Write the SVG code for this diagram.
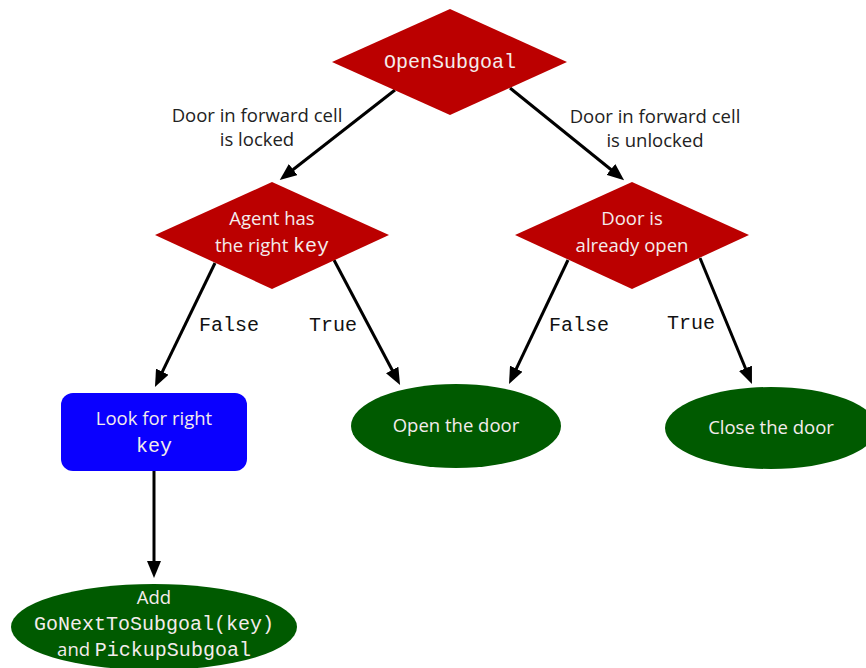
<svg xmlns="http://www.w3.org/2000/svg" width="866" height="668" viewBox="0 0 866 668">
<defs>
<style>
.dia{fill:#bb0000}
.leaf{fill:#005a00}
.act{fill:#0a00ff}
.ntx{font-family:"Open Sans","DejaVu Sans",sans-serif;font-size:18.5px;fill:#f4ecec;text-anchor:middle}
.mono{font-family:"Liberation Mono","Courier New",monospace;font-size:20px}
.ltx{font-family:"Open Sans","DejaVu Sans",sans-serif;font-size:18.5px;fill:#222;text-anchor:middle}
.lmono{font-family:"Liberation Mono","Courier New",monospace;font-size:20px;fill:#111;text-anchor:middle}
.edge{stroke:#000;stroke-width:3;fill:none;marker-end:url(#arr)}
</style>
<marker id="arr" markerUnits="userSpaceOnUse" markerWidth="17" markerHeight="14" refX="4" refY="7" orient="auto">
<path d="M0,0 L17,7 L0,14 z" fill="#000"/>
</marker>
</defs>
<rect width="866" height="668" fill="#fff"/>
<g id="connectors">
<line class="edge" x1="395" y1="90" x2="290" y2="172"/>
<line class="edge" x1="510" y1="88" x2="614" y2="172"/>
<line class="edge" x1="215" y1="263" x2="160.6" y2="375.3"/>
<line class="edge" x1="334" y1="260" x2="394" y2="373.5"/>
<line class="edge" x1="568" y1="260" x2="514.6" y2="372.3"/>
<line class="edge" x1="700" y1="258" x2="747" y2="372"/>
<line class="edge" x1="154" y1="471" x2="154" y2="565"/>
<text class="ltx" x="257" y="122">Door in forward cell</text>
<text class="ltx" x="257" y="146">is locked</text>
<text class="ltx" x="655" y="123">Door in forward cell</text>
<text class="ltx" x="655" y="147">is unlocked</text>
<text class="lmono" x="229" y="331">False</text>
<text class="lmono" x="333" y="331">True</text>
<text class="lmono" x="579" y="331">False</text>
<text class="lmono" x="691" y="329">True</text>
</g>
<g id="open-subgoal">
<polygon class="dia" points="450,9 567,62 450,115 332,62"/>
<text class="ntx mono" x="450" y="68">OpenSubgoal</text>
</g>
<g id="agent-has-key">
<polygon class="dia" points="272,182 389,235 272,289 155,235"/>
<text class="ntx" x="272" y="225">Agent has</text>
<text class="ntx" x="272" y="252">the right <tspan class="mono">key</tspan></text>
</g>
<g id="door-open">
<polygon class="dia" points="632,182 749,235 632,289 515,235"/>
<text class="ntx" x="632" y="225">Door is</text>
<text class="ntx" x="632" y="252">already open</text>
</g>
<g id="look-for-key">
<rect class="act" x="61" y="393" width="186" height="78" rx="12"/>
<text class="ntx" x="154" y="425">Look for right</text>
<text class="ntx mono" x="154" y="452">key</text>
</g>
<g id="open-door">
<ellipse class="leaf" cx="456" cy="426" rx="105" ry="42"/>
<text class="ntx" x="456" y="432">Open the door</text>
</g>
<g id="close-door">
<ellipse class="leaf" cx="771" cy="428" rx="106" ry="41"/>
<text class="ntx" x="771" y="434">Close the door</text>
</g>
<g id="add-subgoals">
<ellipse class="leaf" cx="154" cy="627" rx="143" ry="43"/>
<text class="ntx" x="154" y="604">Add</text>
<text class="ntx mono" x="154" y="630">GoNextToSubgoal(key)</text>
<text class="ntx" x="154" y="656">and <tspan class="mono">PickupSubgoal</tspan></text>
</g>
</svg>
